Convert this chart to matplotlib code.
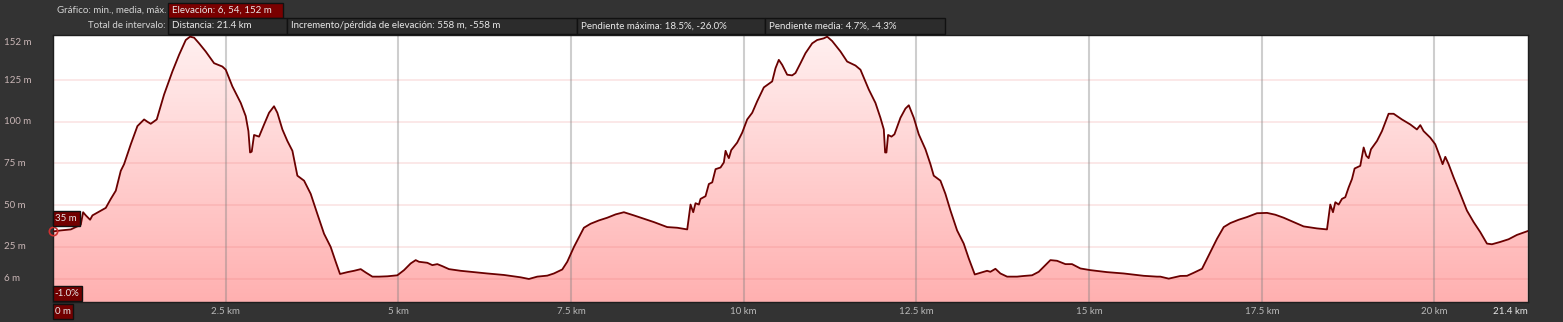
import numpy as np
import matplotlib
matplotlib.use("Agg")
import matplotlib.pyplot as plt
from matplotlib.patches import Polygon, Rectangle
from matplotlib.colors import LinearSegmentedColormap
import matplotlib.transforms as mtransforms

# ---------------- data ----------------
dist_km = [
    0.0, 0.113, 0.258, 0.330, 0.402, 0.436, 0.475, 0.537, 0.571, 0.644, 0.764, 0.837, 0.909,
    0.981, 1.029, 1.126, 1.222, 1.319, 1.367, 1.415, 1.502, 1.608, 1.729, 1.825, 1.922, 1.984,
    2.043, 2.115, 2.211, 2.332, 2.452, 2.501, 2.597, 2.718, 2.790, 2.829, 2.853, 2.877, 2.911,
    2.983, 3.056, 3.128, 3.200, 3.248, 3.321, 3.393, 3.466, 3.538, 3.635, 3.731, 3.827, 3.924,
    4.020, 4.093, 4.155, 4.262, 4.358, 4.455, 4.527, 4.624, 4.720, 4.841, 4.985, 5.082, 5.178,
    5.251, 5.299,
    5.419, 5.492, 5.564, 5.636, 5.733, 5.902, 6.287, 6.529, 6.770, 6.890, 7.011, 7.156, 7.252,
    7.373, 7.445, 7.542, 7.686, 7.783, 7.904, 8.024, 8.145, 8.265, 8.410, 8.555, 8.699, 8.892,
    9.037, 9.182, 9.206, 9.230, 9.269, 9.302, 9.351, 9.375, 9.447, 9.495, 9.544, 9.592, 9.664,
    9.712, 9.737, 9.761, 9.785, 9.819, 9.905, 9.978, 10.050, 10.123, 10.195, 10.291, 10.412,
    10.460, 10.508, 10.557, 10.629, 10.701,
    10.749, 10.822, 10.894, 10.991, 11.063, 11.159, 11.208, 11.280, 11.401, 11.497, 11.618,
    11.690, 11.811, 11.907, 11.979, 12.028, 12.047, 12.066, 12.090, 12.139, 12.182, 12.269,
    12.341, 12.390, 12.462, 12.534, 12.631, 12.703, 12.751, 12.848, 12.920, 12.993, 13.089,
    13.185, 13.258, 13.345, 13.427, 13.523, 13.571, 13.644, 13.716, 13.813, 13.957, 14.054,
    14.174, 14.271, 14.367, 14.440, 14.536, 14.657, 14.753, 14.874, 15.018, 15.260, 15.501,
    15.790, 15.983,
    16.032, 16.153, 16.321, 16.418, 16.514, 16.635, 16.756, 16.852, 16.949, 17.045, 17.166,
    17.286, 17.431, 17.576, 17.696, 17.817, 17.962, 18.106, 18.299, 18.444, 18.468, 18.492,
    18.531, 18.565, 18.613, 18.661, 18.709, 18.758, 18.806, 18.844, 18.926, 18.975, 19.013,
    19.047, 19.081, 19.168, 19.240, 19.336, 19.409, 19.529, 19.650, 19.746, 19.795, 19.843,
    19.939, 20.012, 20.084, 20.118, 20.157, 20.205, 20.277, 20.374, 20.470, 20.567, 20.663,
    20.760, 20.832, 20.953, 21.073, 21.194, 21.35,
]
elev_m = [
    34.3, 34.9, 35.5, 36.9, 38.3, 45.8, 43.9, 41.3, 43.9, 45.6, 48.4, 53.8, 58.7,
    70.6, 74.6, 86.5, 97.4, 101.4, 100.0, 98.8, 101.4, 116.3, 130.2, 140.1, 149.0, 151.0,
    150.4, 147.0, 142.1, 135.1, 133.1, 131.2, 121.2, 111.3, 103.4, 94.4, 81.6, 82.1, 92.1,
    91.1, 98.4, 105.4, 109.3, 105.4, 95.4, 88.5, 82.6, 67.7, 64.7, 56.8, 44.8, 32.9,
    25.0, 16.1, 8.8, 9.9, 10.7, 11.7, 9.7, 7.2, 7.2, 7.4, 8.0, 11.1, 15.1,
    17.1, 16.1,
    15.5, 14.1, 14.7, 13.5, 11.7, 10.7, 9.1, 8.2, 6.8, 5.8, 7.2, 7.8, 9.1,
    11.5, 16.1, 25.0, 36.5, 38.9, 40.9, 42.5, 44.5, 45.8, 43.9, 41.9, 39.9, 36.9,
    36.5, 35.5, 42.9, 50.4, 45.8, 51.2, 50.4, 53.8, 55.4, 62.7, 63.7, 71.6, 72.6,
    75.6, 82.6, 80.2, 78.2, 83.0, 87.5, 93.5, 101.4, 105.4, 112.3, 120.6, 124.2,
    132.1, 137.1, 134.1, 128.2, 127.8,
    129.2, 135.1, 141.1, 147.0, 149.0, 150.0, 151.0, 148.4, 142.1, 136.1, 133.7,
    131.2, 119.3, 111.3, 102.4, 95.4, 81.6, 81.6, 92.1, 91.1, 92.5, 102.4,
    107.9, 109.9, 102.4, 92.5, 83.5, 74.6, 67.7, 64.7, 56.8, 46.8, 34.9,
    27.0, 18.1, 8.5, 9.5, 10.7, 10.1, 11.9, 9.1, 7.2, 7.2, 7.6,
    8.0, 10.1, 14.1, 17.1, 16.7, 14.7, 14.7, 12.1, 11.1, 9.9, 9.1,
    7.7, 7.2,
    7.2, 6.0, 7.6, 7.7, 9.5, 11.9, 22.0, 29.9, 36.9, 39.3, 41.3,
    42.9, 45.2, 45.4, 44.3, 42.5, 39.9, 37.3, 36.1, 35.5, 42.9, 50.4,
    45.8, 51.8, 50.4, 53.8, 54.8, 60.7, 65.7, 72.0, 73.6, 84.6, 79.6,
    78.2, 83.5, 88.5, 94.4, 104.8, 104.8, 101.4, 98.4, 95.4, 98.0, 94.4,
    90.5, 86.5, 78.6, 74.6, 79.0, 74.6, 66.7, 56.8, 46.8, 39.9, 33.9,
    27.0, 26.6, 28.0, 29.6, 32.2, 34.5,
]

x_ticks = [2.5, 5, 7.5, 10, 12.5, 15, 17.5, 20]
x_tick_labels = ["2.5 km", "5 km", "7.5 km", "10 km", "12.5 km", "15 km", "17.5 km", "20 km"]
x_end = 21.35
x_end_label = "21.4 km"
x_start_label = "0 m"

y_ticks = [6, 25, 50, 75, 100, 125, 152]
y_tick_labels = ["6 m", "25 m", "50 m", "75 m", "100 m", "125 m", "152 m"]
y_min, y_max = -8, 152

header_row1_label = "Gráfico: min., media, máx."
header_row1_box = "Elevación: 6, 54, 152 m"
header_row2_label = "Total de intervalo:"
header_row2_boxes = [
    "Distancia: 21.4 km",
    "Incremento/pérdida de elevación: 558 m, -558 m",
    "Pendiente máxima: 18.5%, -26.0%",
    "Pendiente media: 4.7%, -4.3%",
]
start_elev_label = "35 m"
grade_label = "-1.0%"

# ---------------- figure ----------------
W, H = 1563, 322
BG = "#333333"
FONT = "Lato"
fig = plt.figure(figsize=(W / 100, H / 100), dpi=100, facecolor=BG)

def fx(px):
    return px / W

def fy(py):
    return 1 - py / H

ax_l, ax_r, ax_t, ax_b = 53, 1527.7, 35, 302
ax = fig.add_axes([fx(ax_l), fy(ax_b), fx(ax_r - ax_l), (ax_b - ax_t) / H])
ax.set_facecolor("white")

km = np.array(dist_km)
el = np.array(elev_m)

# gradient fill under the profile
verts = np.column_stack([np.r_[km[0], km, km[-1]], np.r_[y_min, el, y_min]])
poly = Polygon(verts, closed=True, facecolor="none", edgecolor="none")
ax.add_patch(poly)
cmap = LinearSegmentedColormap.from_list("g", ["#ffb0b0", "#fff0f0"])
grad = np.linspace(0, 1, 256).reshape(-1, 1)
im = ax.imshow(grad, extent=[0, x_end, y_min, y_max], origin="lower", cmap=cmap,
               aspect="auto", zorder=1, interpolation="bilinear")
im.set_clip_path(poly)

# grid lines
for yv in y_ticks:
    ax.axhline(yv, color=(0.9, 0.4, 0.4), alpha=0.15, lw=1.4, zorder=2)
for xv in x_ticks:
    ax.axvline(xv, color=(0.5, 0.5, 0.5), alpha=0.38, lw=1.5, zorder=2)

ax.plot(km, el, color="#6a0000", lw=1.3, zorder=3, solid_joinstyle="round")
ax.plot([km[0]], [el[0]], marker="o", ms=6, mfc="none", mec="#d03030", mew=1.2,
        clip_on=False, zorder=4)

ax.set_xlim(0, x_end)
ax.set_ylim(y_min, y_max)
ax.set_xticks([])
ax.set_yticks([])
for s in ax.spines.values():
    s.set_color("#1e1e1e")
    s.set_linewidth(1.0)

# y tick labels
trans_y = mtransforms.blended_transform_factory(fig.transFigure, ax.transData)
for yv, lab in zip(y_ticks, y_tick_labels):
    va = "top" if yv == y_ticks[-1] else "center"
    yy = yv - 1.5 if yv == y_ticks[-1] else yv
    ax.text(fx(4), yy, lab, transform=trans_y, ha="left", va=va, color="#c9b6b6",
            fontsize=7, family=FONT, clip_on=False)

# x tick labels
xlab_y = fy(312)
trans_x = mtransforms.blended_transform_factory(ax.transData, fig.transFigure)
for xv, lab in zip(x_ticks, x_tick_labels):
    ax.text(xv, xlab_y, lab, transform=trans_x, ha="center", va="center",
            color="#b8b8b8", fontsize=7, family=FONT, clip_on=False)
ax.text(x_end, xlab_y, x_end_label, transform=trans_x, ha="right", va="center",
        color="#e6e6e6", fontsize=7, family=FONT, clip_on=False)

def box(x0, y0, x1, y1, fc, ec="#111111", text=None, tc="#e8e8e8", pad=4):
    fig.patches.append(Rectangle((fx(x0), fy(y1)), fx(x1 - x0), (y1 - y0) / H,
                                 transform=fig.transFigure, facecolor=fc,
                                 edgecolor=ec, lw=1.0, zorder=5))
    if text is not None:
        fig.text(fx(x0 + pad), fy((y0 + y1) / 2), text, ha="left", va="center",
                 color=tc, fontsize=7, family=FONT, zorder=6)

# value flags
box(53, 211, 80, 226, "#720000", text=start_elev_label, pad=1.5)
box(53, 286, 82, 301, "#720000", text=grade_label, pad=1.5)
box(53, 304, 73, 319, "#720000", text=x_start_label, pad=2)

# header
fig.text(fx(166), fy(10.3), header_row1_label, ha="right", va="center",
         color="#d4d4d4", fontsize=7, family=FONT)
box(168, 3, 283, 18, "#7a0000", text=header_row1_box)
fig.text(fx(166), fy(25.8), header_row2_label, ha="right", va="center",
         color="#d4d4d4", fontsize=7, family=FONT)
edges = [168, 287, 577, 765, 945]
for i, t in enumerate(header_row2_boxes):
    box(edges[i], 18.5, edges[i + 1], 33.5, "#2c2c2c", text=t)

fig.savefig("out.png", dpi=100, facecolor=BG)
